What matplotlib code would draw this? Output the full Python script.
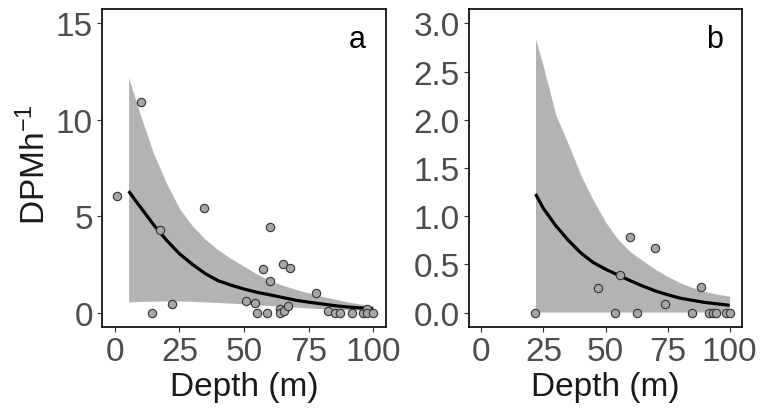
import matplotlib
matplotlib.use("Agg")
import matplotlib.pyplot as plt
import numpy as np

plt.rcParams['font.family'] = ['Liberation Sans', 'DejaVu Sans']
plt.rcParams['mathtext.default'] = 'regular'

# ---- Panel a data ----
a_depth = [1.0, 10.0, 14.3, 17.4, 22.0, 34.5, 50.8, 54.2, 55.1, 57.2, 58.9, 60.0, 60.0,
           63.8, 64.0, 65.4, 65.1, 67.2, 68.0, 78.0, 82.6, 85.2, 87.0, 91.9, 96.0, 97.8,
           97.8, 99.9]
a_dpm = [6.06, 10.9, 0.0, 4.3, 0.45, 5.42, 0.62, 0.52, 0.0, 2.24, 0.0, 4.42, 1.65,
         0.19, 0.0, 0.1, 2.5, 0.35, 2.3, 1.02, 0.1, 0.0, 0.0, 0.0, 0.0, 0.19, 0.0, 0.0]

a_fit_x = [5.3, 10, 15, 20, 25, 30, 35, 40, 45, 50, 55, 60, 65, 70, 75, 80, 85, 90, 95, 100]
a_fit = [6.3, 5.45, 4.55, 3.75, 3.05, 2.5, 2.02, 1.65, 1.42, 1.22, 1.05, 0.92, 0.78,
         0.64, 0.54, 0.45, 0.36, 0.29, 0.24, 0.19]
a_upper = [12.2, 10.2, 8.25, 6.7, 5.4, 4.5, 3.8, 3.25, 2.8, 2.4, 2.0, 1.65, 1.42,
           1.2, 1.02, 0.85, 0.7, 0.55, 0.44, 0.35]
a_lower = [0.55, 0.58, 0.59, 0.6, 0.6, 0.58, 0.55, 0.52, 0.49, 0.45, 0.4, 0.36, 0.32,
           0.28, 0.24, 0.2, 0.17, 0.14, 0.12, 0.1]

# ---- Panel b data ----
b_depth = [21.6, 47.0, 54.0, 56.0, 59.7, 62.8, 69.8, 73.8, 84.7, 88.6, 91.9, 93.3, 94.4,
           98.4, 100.0]
b_dpm = [0.0, 0.25, 0.0, 0.39, 0.78, 0.0, 0.67, 0.086, 0.0, 0.27, 0.0, 0.0, 0.0, 0.0, 0.0]

b_fit_x = [21.8, 25, 30, 35, 40, 45, 50, 55, 60, 65, 70, 75, 80, 85, 90, 95, 100]
b_fit = [1.23, 1.08, 0.9, 0.75, 0.62, 0.52, 0.45, 0.39, 0.33, 0.275, 0.225, 0.185,
         0.15, 0.127, 0.105, 0.09, 0.075]
b_upper = [2.84, 2.55, 2.05, 1.75, 1.43, 1.17, 0.94, 0.76, 0.63, 0.54, 0.45, 0.375,
           0.31, 0.26, 0.22, 0.19, 0.17]
b_lower = [0.005] * 17

x_ticks = [0, 25, 50, 75, 100]
a_yticks = [0, 5, 10, 15]
a_yticklabels = ['0', '5', '10', '15']
b_yticks = [0.0, 0.5, 1.0, 1.5, 2.0, 2.5, 3.0]
b_yticklabels = ['0.0', '0.5', '1.0', '1.5', '2.0', '2.5', '3.0']

W, H = 763, 414
fig = plt.figure(figsize=(W / 100, H / 100), dpi=100)

def px_axes(l, t, r, b):
    return fig.add_axes([l / W, 1 - b / H, (r - l) / W, (b - t) / H])

ax_a = px_axes(102, 10, 386, 328)
ax_b = px_axes(469, 10, 742, 328)

def style(ax, fx, fy, up, lo, dx, dy, ymax, yticks, yticklabels, letter):
    ax.fill_between(fx, lo, up, color='#B3B3B3', linewidth=0, zorder=1)
    ax.plot(fx, fy, color='black', linewidth=2.3, zorder=2, solid_capstyle='butt',
            solid_joinstyle='round')
    ax.scatter(dx, dy, s=36, facecolor='#A6A6A6', edgecolor='#333333',
               linewidth=0.8, zorder=3)
    ax.set_xlim(-5, 105)
    ax.set_ylim(-0.05 * ymax, 1.05 * ymax)
    ax.set_xticks(x_ticks)
    ax.set_xticklabels([str(t) for t in x_ticks])
    ax.set_yticks(yticks)
    ax.set_yticklabels(yticklabels)
    ax.tick_params(axis='both', labelsize=24, labelcolor='#4D4D4D', color='#333333',
                   length=3.6, width=0.8, pad=3)
    for sp in ax.spines.values():
        sp.set_color('black')
        sp.set_linewidth(1.2)
    ax.text(0.9, 0.905, letter, transform=ax.transAxes, fontsize=22, color='black',
            ha='center', va='center')
    ax.set_xlabel('Depth (m)', fontsize=24, color='#1A1A1A', labelpad=3)

style(ax_a, a_fit_x, a_fit, a_upper, a_lower, a_depth, a_dpm, 15,
      a_yticks, a_yticklabels, 'a')
style(ax_b, b_fit_x, b_fit, b_upper, b_lower, b_depth, b_dpm, 3.0,
      b_yticks, b_yticklabels, 'b')

fig.text(35 / W, 1 - 165 / H, 'DPMh$^{-1}$', rotation=90, fontsize=24,
         color='#1A1A1A', ha='center', va='center')

fig.savefig('out.png', dpi=100)
